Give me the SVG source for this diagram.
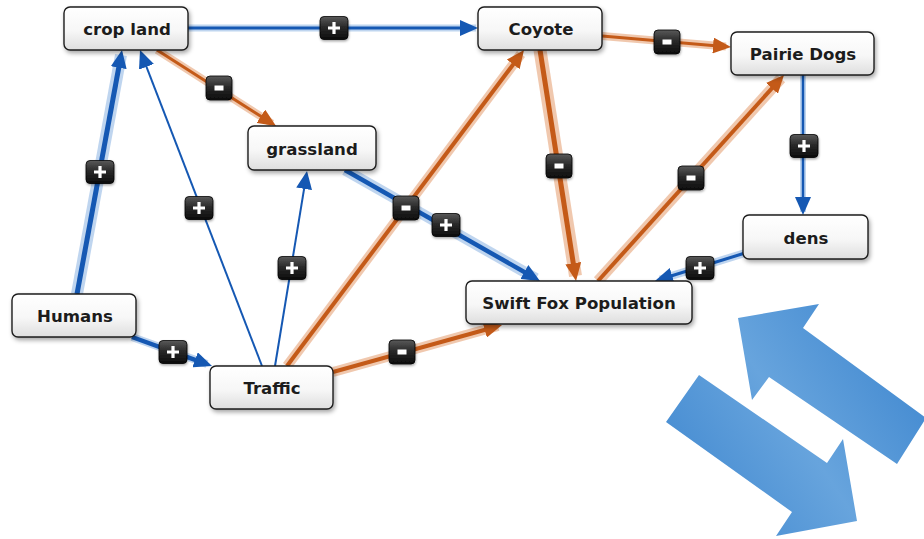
<svg xmlns="http://www.w3.org/2000/svg" xmlns:xlink="http://www.w3.org/1999/xlink" width="924" height="539" viewBox="0 0 924 539">
  <style>
    .node rect { fill: url(#nodeFill); stroke: #1e1e1e; stroke-width: 1.4; filter: url(#nodeShadow); }
    .node text { font-family: "DejaVu Sans", Verdana, sans-serif; font-weight: bold; font-size: 16.6px; fill: #1c1c1c; text-anchor: middle; }
    .line { fill: none; stroke-linecap: butt; }
    .pos { stroke: #1558b3; marker-end: url(#arrowBlue); }
    .neg { stroke: #c45a18; marker-end: url(#arrowOrange); }
    .halo-pos { fill: none; stroke: #a9c7ea; stroke-opacity: 0.75; }
    .halo-neg { fill: none; stroke: #eab08c; stroke-opacity: 0.7; }
    .big { fill: url(#bigFill); }
  </style>
  <defs>
    <linearGradient id="nodeFill" x1="0" y1="0" x2="0" y2="1">
      <stop offset="0" stop-color="#ffffff"/>
      <stop offset="0.55" stop-color="#f7f7f7"/>
      <stop offset="1" stop-color="#dedede"/>
    </linearGradient>
    <linearGradient id="badgeFill" x1="0" y1="0" x2="0" y2="1">
      <stop offset="0" stop-color="#5a5a5a"/>
      <stop offset="0.45" stop-color="#2a2a2a"/>
      <stop offset="1" stop-color="#0c0c0c"/>
    </linearGradient>
    <linearGradient id="bigFill" gradientUnits="userSpaceOnUse" x1="700" y1="480" x2="880" y2="360">
      <stop offset="0" stop-color="#4a8fd3"/>
      <stop offset="0.5" stop-color="#67a4dd"/>
      <stop offset="1" stop-color="#4a8fd3"/>
    </linearGradient>
    <filter id="nodeShadow" x="-20%" y="-30%" width="140%" height="170%">
      <feDropShadow dx="1.5" dy="2.5" stdDeviation="2" flood-color="#000" flood-opacity="0.35"/>
    </filter>
    <filter id="badgeShadow" x="-30%" y="-30%" width="160%" height="170%">
      <feDropShadow dx="0.5" dy="1.5" stdDeviation="1" flood-color="#000" flood-opacity="0.35"/>
    </filter>
    <marker id="arrowBlue" markerUnits="userSpaceOnUse" markerWidth="18" markerHeight="16" refX="8" refY="8" orient="auto" viewBox="0 0 18 16">
      <path d="M0,0 L18,8 L0,16 z" fill="#1558b3"/>
    </marker>
    <marker id="arrowOrange" markerUnits="userSpaceOnUse" markerWidth="18" markerHeight="16" refX="8" refY="8" orient="auto" viewBox="0 0 18 16">
      <path d="M0,0 L18,8 L0,16 z" fill="#c45a18"/>
    </marker>
    <g id="badgePlus" filter="url(#badgeShadow)">
      <rect x="-14" y="-11.5" width="28" height="23" rx="4" fill="url(#badgeFill)" stroke="#000" stroke-width="0.8"/>
      <path d="M-6,0 H6 M0,-6 V6" stroke="#fff" stroke-width="3.2" fill="none"/>
    </g>
    <g id="badgeMinus" filter="url(#badgeShadow)">
      <rect x="-13" y="-12" width="26" height="24" rx="4" fill="url(#badgeFill)" stroke="#000" stroke-width="0.8"/>
      <rect x="-4.5" y="-2.5" width="9" height="5" fill="#fff"/>
    </g>
  </defs>

  <rect width="924" height="539" fill="#ffffff"/>

  <!-- connectors -->
  <g id="connectors">
    <!-- positive (blue) links -->
    <g id="edge-crop-coyote">
      <line class="halo-pos" x1="188" y1="28" x2="476" y2="28" stroke-width="7"/>
      <line class="line pos" x1="188" y1="28" x2="468" y2="28" stroke-width="3"/>
    </g>
    <g id="edge-pairie-dens">
      <line class="halo-pos" x1="803" y1="75" x2="803" y2="212" stroke-width="6"/>
      <line class="line pos" x1="803" y1="75" x2="803" y2="205" stroke-width="2.5"/>
    </g>
    <g id="edge-dens-swiftfox">
      <line class="halo-pos" x1="745" y1="253" x2="660" y2="279.5" stroke-width="8"/>
      <line class="line pos" x1="745" y1="253" x2="664.5" y2="278" stroke-width="3"/>
    </g>
    <g id="edge-grassland-swiftfox">
      <line class="halo-pos" x1="345" y1="170" x2="536" y2="278.5" stroke-width="11"/>
      <line class="line pos" x1="345" y1="170" x2="531.3" y2="276" stroke-width="4.5"/>
    </g>
    <g id="edge-traffic-grassland">
      <line class="line pos" x1="275" y1="366" x2="305.4" y2="180.9" stroke-width="2"/>
    </g>
    <g id="edge-traffic-cropland">
      <line class="line pos" x1="262" y1="366" x2="143.6" y2="59.3" stroke-width="2"/>
    </g>
    <g id="edge-humans-cropland">
      <line class="halo-pos" x1="77" y1="294" x2="121" y2="55" stroke-width="12"/>
      <line class="line pos" x1="77" y1="294" x2="120.2" y2="59.8" stroke-width="5"/>
    </g>
    <g id="edge-humans-traffic">
      <line class="halo-pos" x1="132" y1="337" x2="207" y2="364" stroke-width="8"/>
      <line class="line pos" x1="132" y1="337" x2="202.6" y2="362.6" stroke-width="4.5"/>
    </g>

    <!-- negative (orange) links -->
    <g id="edge-cropland-grassland">
      <line class="halo-neg" x1="157" y1="50" x2="272" y2="123.5" stroke-width="8"/>
      <line class="line neg" x1="157" y1="50" x2="267.6" y2="120.6" stroke-width="3"/>
    </g>
    <g id="edge-coyote-pairie">
      <line class="halo-neg" x1="602" y1="36" x2="726" y2="46.6" stroke-width="8"/>
      <line class="line neg" x1="602" y1="36" x2="721" y2="46.2" stroke-width="3"/>
    </g>
    <g id="edge-coyote-swiftfox">
      <line class="halo-neg" x1="540" y1="50" x2="575.5" y2="276" stroke-width="13"/>
      <line class="line neg" x1="540" y1="50" x2="574.5" y2="271.1" stroke-width="5"/>
    </g>
    <g id="edge-swiftfox-pairie">
      <line class="halo-neg" x1="598" y1="281" x2="781" y2="78.5" stroke-width="11"/>
      <line class="line neg" x1="598" y1="281" x2="777.3" y2="82.4" stroke-width="4"/>
    </g>
    <g id="edge-traffic-coyote">
      <line class="halo-neg" x1="287" y1="366" x2="521" y2="54" stroke-width="10"/>
      <line class="line neg" x1="287" y1="366" x2="518" y2="58" stroke-width="4"/>
    </g>
    <g id="edge-traffic-swiftfox">
      <line class="halo-neg" x1="333" y1="372" x2="498" y2="326" stroke-width="10"/>
      <line class="line neg" x1="333" y1="372" x2="492.4" y2="327.7" stroke-width="4"/>
    </g>

    <!-- link polarity badges -->
    <use xlink:href="#badgePlus" href="#badgePlus" x="334" y="28"/>
    <use xlink:href="#badgeMinus" href="#badgeMinus" x="219" y="88"/>
    <use xlink:href="#badgeMinus" href="#badgeMinus" x="667" y="42"/>
    <use xlink:href="#badgePlus" href="#badgePlus" x="100" y="172"/>
    <use xlink:href="#badgePlus" href="#badgePlus" x="199" y="208"/>
    <use xlink:href="#badgePlus" href="#badgePlus" x="292" y="268"/>
    <use xlink:href="#badgeMinus" href="#badgeMinus" x="406" y="208"/>
    <use xlink:href="#badgePlus" href="#badgePlus" x="446" y="225"/>
    <use xlink:href="#badgeMinus" href="#badgeMinus" x="402" y="352"/>
    <use xlink:href="#badgePlus" href="#badgePlus" x="173" y="352"/>
    <use xlink:href="#badgeMinus" href="#badgeMinus" x="559" y="166"/>
    <use xlink:href="#badgeMinus" href="#badgeMinus" x="691" y="178"/>
    <use xlink:href="#badgePlus" href="#badgePlus" x="804" y="146"/>
    <use xlink:href="#badgePlus" href="#badgePlus" x="700" y="268"/>
  </g>

  <!-- nodes -->
  <g id="node-crop-land" class="node">
    <rect x="64" y="7" width="124" height="43" rx="6"/>
    <text x="127" y="35">crop land</text>
  </g>
  <g id="node-coyote" class="node">
    <rect x="478" y="7" width="124" height="43" rx="6"/>
    <text x="541" y="35">Coyote</text>
  </g>
  <g id="node-pairie-dogs" class="node">
    <rect x="731" y="32" width="143" height="43" rx="6"/>
    <text x="803" y="60">Pairie Dogs</text>
  </g>
  <g id="node-grassland" class="node">
    <rect x="248" y="126" width="128" height="44" rx="6"/>
    <text x="312" y="155">grassland</text>
  </g>
  <g id="node-dens" class="node">
    <rect x="743" y="215" width="125" height="44" rx="6"/>
    <text x="806" y="244">dens</text>
  </g>
  <g id="node-swift-fox" class="node">
    <rect x="466" y="281" width="226" height="43" rx="6"/>
    <text x="579" y="309">Swift Fox Population</text>
  </g>
  <g id="node-humans" class="node">
    <rect x="12" y="294" width="124" height="43" rx="6"/>
    <text x="75" y="322">Humans</text>
  </g>
  <g id="node-traffic" class="node">
    <rect x="210" y="366" width="123" height="43" rx="6"/>
    <text x="272" y="394">Traffic</text>
  </g>

  <!-- refresh-style double arrow -->
  <g id="cycle-arrows">
    <polygon class="big" points="738,318 819,304 803,328 926,418 897,464 769,377 752,400"/>
    <polygon class="big" points="699,375 827,463 843,439 857,521 776,536 792,512 666,422"/>
  </g>
</svg>
